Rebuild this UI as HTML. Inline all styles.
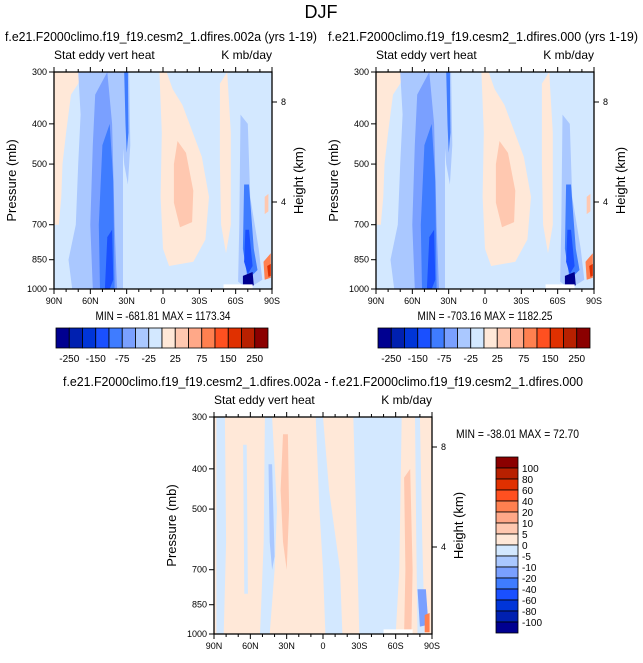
<!DOCTYPE html>
<html><head><meta charset="utf-8"><style>
body{margin:0;background:#fff;}
svg text{font-family:"Liberation Sans",sans-serif;fill:#000;}
</style></head><body>
<svg id="fig" width="643" height="658" viewBox="0 0 643 658" xmlns="http://www.w3.org/2000/svg">
<text x="321" y="18" font-size="18" text-anchor="middle">DJF</text>
</svg>
<script>
const palette = ["#000090","#0020b0","#0035d8","#1a50ff","#3f7cff","#7aa0ff","#aac8ff","#d3e8ff","#ffe8d8","#ffc8b0","#ffa888","#ff8050","#ff5020","#e03000","#b82000","#8b0000"];
const latTicks = [90,60,30,0,-30,-60,-90];
const latTickLabels = ["90N","60N","30N","0","30S","60S","90S"];
const presTicks = [300,400,500,700,850,1000];
const heightTicks = [8,4];
const cbLabelsH = ["-250","-150","-75","-25","25","75","150","250"];
const cbLabelsV = ["100","80","60","40","20","10","5","0","-5","-10","-20","-40","-60","-80","-100"];
// control-case regions: [colorIndex, [[lat,pressure],...]]
const regionsCtl = [
 [8,[[90,300],[66,300],[70,320],[76,340],[80,420],[83,500],[84,600],[86,700],[90,700]]],
 [6,[[70,300],[33,300],[33,1000],[75,1000],[78,850],[72,700],[70,500],[68,380]]],
 [5,[[56,340],[46,300],[42,400],[40,700],[38,1000],[58,1000],[60,700],[58,450]]],
 [4,[[50,450],[44,400],[41,550],[40,1000],[52,1000],[53,700]]],
 [3,[[46,750],[42,720],[41,950],[44,1000],[48,1000]]],
 [6,[[35,300],[28,300],[27,450],[29,560],[32,500],[34,420]]],
 [4,[[32,300],[29,300],[28.5,420],[30,470],[31,400]]],
 [8,[[3,300],[-3,300],[-8,330],[-16,360],[-32,480],[-38,600],[-35,760],[-25,860],[-5,880],[0,800],[2,600],[1,420]]],
 [9,[[-12,440],[-19,470],[-25,580],[-24,690],[-14,710],[-9,620],[-9,500]]],
 [8,[[-47,320],[-53,300],[-56,420],[-56,700],[-52,820],[-48,700],[-47,500]]],
 [6,[[-64,380],[-70,400],[-72,600],[-79,800],[-82,950],[-70,1000],[-62,960],[-63,700]]],
 [4,[[-67,560],[-71,560],[-75,800],[-78,900],[-70,950],[-66,800]]],
 [3,[[-68,720],[-71,720],[-74,880],[-70,920],[-67,860]]],
 [0,[[-66,930],[-74,910],[-75,980],[-66,985]]],
 [11,[[-83,860],[-89,820],[-89,940],[-84,950]]],
 [13,[[-86,880],[-89,870],[-89,930],[-87,935]]],
 [9,[[-84,600],[-87,590],[-87,650],[-84,660]]]
];
const regionsDiff = [
 [7,[[88,300],[81,300],[80,600],[82,1000],[88,1000]]],
 [7,[[66,350],[63,350],[62,800],[65,800]]],
 [7,[[48,300],[42,300],[38,500],[40,700],[44,1000],[52,1000],[49,600]]],
 [6,[[45,390],[42,390],[40,650],[42,700],[44,600]]],
 [9,[[33,330],[29,330],[28,500],[30,700],[33,600],[35,450]]],
 [7,[[6,300],[0,300],[-5,450],[-14,700],[-16,1000],[-2,1000],[0,700],[3,500]]],
 [7,[[-25,300],[-65,300],[-63,700],[-60,1000],[-30,1000],[-28,600]]],
 [9,[[-67,420],[-72,400],[-74,700],[-73,1000],[-67,1000],[-68,700]]],
 [7,[[-76,300],[-80,300],[-82,600],[-84,1000],[-78,1000],[-77,600]]],
 [5,[[-78,780],[-85,780],[-87,950],[-80,960]]],
 [11,[[-84,900],[-88,890],[-88,990],[-84,990]]]
];
const whiteBox = [[-50,975],[-74,975],[-74,1000],[-50,1000]];
const NS="http://www.w3.org/2000/svg";
const svg=document.getElementById('fig');
function mk(t,a,parent){const e=document.createElementNS(NS,t);for(const k in a)e.setAttribute(k,a[k]);(parent||svg).appendChild(e);return e;}
function txt(x,y,s,size,anchor,parent,rot){const e=mk('text',{x:x,y:y,'font-size':size,'text-anchor':anchor||'middle'},parent);if(rot)e.setAttribute('transform','rotate(-90 '+x+' '+y+')');e.textContent=s;return e;}
function fit(e,len){e.setAttribute('textLength',len);e.setAttribute('lengthAdjust','spacingAndGlyphs');}

function panel(name,ox,oy,bg,regions,title,titleX,titleLen,minmax,mmX,mmY,mmAnchor,mmLen){
 const W=218,H=217;
 const g=mk('g',{});
 
 
 const xs=lat=>ox+(90-lat)/180*W;
 const ys=p=>oy+Math.log(p/300)/Math.log(1000/300)*H;
 const hy=h=>oy+30+(8-h)*25;
 const t=txt(titleX,oy-31,title,13,'middle',g);
 fit(t,titleLen);
 
 const l=txt(ox,oy-13,'Stat eddy vert heat',12,'start',g);
 
 const u=txt(ox+W,oy-13,'K mb/day',12,'end',g);
 
 const bgr=mk('rect',{x:ox,y:oy,width:W,height:H,fill:palette[bg]},g);
 
 regions.forEach(r=>{
  const p=mk('polygon',{points:r[1].map(q=>xs(q[0]).toFixed(1)+','+ys(q[1]).toFixed(1)).join(' '),fill:palette[r[0]]},g);
  
  
 });
 const wb=mk('polygon',{points:whiteBox.map(q=>xs(q[0])+','+ys(q[1])).join(' '),fill:'#fff'},g);
 
 mk('rect',{x:ox,y:oy,width:W,height:H,fill:'none',stroke:'#000','stroke-width':1.3},g);
 for(let lat=90;lat>=-90;lat-=10){
  const maj=lat%30===0;const L=maj?5:3;
  mk('line',{x1:xs(lat),x2:xs(lat),y1:oy+H,y2:oy+H+L,stroke:'#000'},g);
  mk('line',{x1:xs(lat),x2:xs(lat),y1:oy,y2:oy-L,stroke:'#000'},g);
 }
 latTicks.forEach((lat,i)=>{const e=txt(xs(lat),oy+H+15,latTickLabels[i],9,'middle',g);});
 presTicks.forEach(p=>{mk('line',{x1:ox-5,x2:ox,y1:ys(p),y2:ys(p),stroke:'#000'},g);const e=txt(ox-7,ys(p)+3,String(p),9,'end',g);});
 heightTicks.forEach(h=>{mk('line',{x1:ox+W,x2:ox+W+5,y1:hy(h),y2:hy(h),stroke:'#000'},g);const e=txt(ox+W+9,hy(h)+3,String(h),9,'start',g);});
 const ya=txt(ox-38,oy+H/2,'Pressure (mb)',13,'middle',g,true);
 
 const ha=txt(ox+W+31,oy+H/2,'Height (km)',13,'middle',g,true);
 
 const mm=txt(mmX,mmY,minmax,12,mmAnchor,g);
 fit(mm,mmLen);
 
}
function hbar(ox,oy){
 const g=mk('g',{});
 
 
 const w=13.25;
 palette.forEach((c,i)=>{mk('rect',{x:ox+i*w,y:oy,width:w,height:20,fill:c,stroke:'#000','stroke-width':0.8},g);});
 cbLabelsH.forEach((s,i)=>{const e=txt(ox+(2*i+1)*w,oy+34,s,10,'middle',g);});
}
function vbar(ox,oy){
 const g=mk('g',{});
 
 
 const h=11;
 palette.slice().reverse().forEach((c,i)=>{mk('rect',{x:ox,y:oy+i*h,width:22,height:h,fill:c,stroke:'#000','stroke-width':0.8},g);});
 cbLabelsV.forEach((s,i)=>{const e=txt(ox+26,oy+(i+1)*h+4,s,10,'start',g);});
}
panel('control-panel-002a',54,72,7,regionsCtl,'f.e21.F2000climo.f19_f19.cesm2_1.dfires.002a (yrs 1-19)',161,312,'MIN = -681.81   MAX = 1173.34',163,320,'middle',135);
panel('control-panel-000',376,72,7,regionsCtl,'f.e21.F2000climo.f19_f19.cesm2_1.dfires.000 (yrs 1-19)',483,310,'MIN = -703.16   MAX = 1182.25',485,320,'middle',135);
hbar(56,328);
hbar(378,328);
panel('difference-panel',214,417,8,regionsDiff,'f.e21.F2000climo.f19_f19.cesm2_1.dfires.002a - f.e21.F2000climo.f19_f19.cesm2_1.dfires.000',323,520,'MIN = -38.01   MAX =  72.70',456,438,'start',123);
vbar(496,457);
</script>
</body></html>
